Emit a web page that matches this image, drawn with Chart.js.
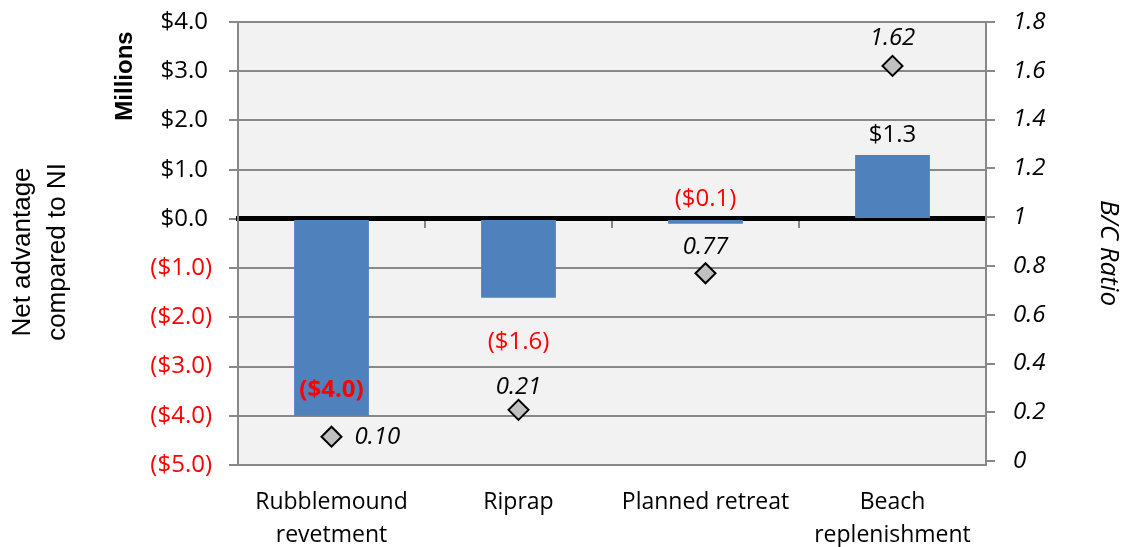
<!DOCTYPE html>
<html lang="en">
<head>
<meta charset="utf-8">
<title>Net advantage compared to NI</title>
<script src="https://cdn.jsdelivr.net/npm/chart.js@4.4.1/dist/chart.umd.min.js"></script>
<style>
  html, body { margin: 0; padding: 0; background: #fff; }
  #wrap { width: 1133px; height: 547px; position: relative; }
</style>
</head>
<body>
<div id="wrap"><canvas id="chart"></canvas></div>
<script>
// alternatives vs. NI (no intervention)
var categories = [['Rubblemound', 'revetment'], 'Riprap', 'Planned retreat', ['Beach', 'replenishment']];
var netAdvantage = [-4.0, -1.6, -0.1, 1.3];   // $ millions
var bcRatio = [0.10, 0.21, 0.77, 1.62];
var moneyTicks = [4, 3, 2, 1, 0, -1, -2, -3, -4, -5];
var ratioTicks = [0, 0.2, 0.4, 0.6, 0.8, 1, 1.2, 1.4, 1.6, 1.8];

// label placement next to each mark (pixels)
var barLabelDy = [-26, 45, -25, -20];
var ratioLabelDx = [23, 0, 0, 0];
var ratioLabelDy = [0, -23, -26, -28];

var GRID = '#888888';
var RED = '#ff0000';
var FONT = "'Open Sans', sans-serif";

function money(v) {
    var s = '$' + Math.abs(v).toFixed(1);
    return v < 0 ? '(' + s + ')' : s;
}

// keep the plot area where the layout padding puts it
function noLabelPadding(s) {
    s.paddingTop = 0;
    s.paddingBottom = 0;
}

var plotBg = {
    id: 'plotBg',
    beforeDraw: function(chart) {
        var a = chart.chartArea, ctx = chart.ctx;
        ctx.save();
        ctx.fillStyle = '#f2f2f2';
        ctx.fillRect(a.left, a.top, a.right - a.left, a.bottom - a.top);
        ctx.restore();
    }
};

var dataLabels = {
    id: 'dataLabels',
    afterDatasetsDraw: function(chart) {
        var ctx = chart.ctx;
        var bars = chart.getDatasetMeta(0).data;
        var pts = chart.getDatasetMeta(1).data;
        ctx.save();
        ctx.textBaseline = 'middle';
        bars.forEach(function(bar, i) {
            var v = netAdvantage[i];
            ctx.textAlign = 'center';
            ctx.fillStyle = v < 0 ? RED : '#000';
            ctx.font = (i === 0 ? 'bold ' : '') + '24px ' + FONT;
            ctx.fillText(money(v), bar.x, bar.y + barLabelDy[i]);
        });
        pts.forEach(function(p, i) {
            ctx.textAlign = ratioLabelDx[i] ? 'left' : 'center';
            ctx.fillStyle = '#000';
            ctx.font = 'italic 24px ' + FONT;
            ctx.fillText(bcRatio[i].toFixed(2), p.x + ratioLabelDx[i], p.y + ratioLabelDy[i]);
        });
        ctx.restore();
    }
};

var axisTitles = {
    id: 'axisTitles',
    afterDraw: function(chart) {
        var ctx = chart.ctx;
        ctx.save();
        ctx.fillStyle = '#000';
        ctx.textAlign = 'center';
        ctx.textBaseline = 'alphabetic';

        ctx.font = "26px 'Liberation Sans', Arial, sans-serif";
        [['Net advantage', 30], ['compared to NI', 65]].forEach(function(l) {
            ctx.save();
            ctx.translate(l[1], 252);
            ctx.rotate(-Math.PI / 2);
            ctx.fillText(l[0], 0, 0);
            ctx.restore();
        });

        ctx.font = "bold 24px 'Liberation Sans', Arial, sans-serif";
        ctx.save();
        ctx.translate(132, 76);
        ctx.rotate(-Math.PI / 2);
        ctx.fillText('Millions', 0, 0);
        ctx.restore();

        ctx.font = 'italic 26px ' + FONT;
        ctx.save();
        ctx.translate(1101, 253);
        ctx.rotate(Math.PI / 2);
        ctx.fillText('B/C Ratio', 0, 0);
        ctx.restore();
        ctx.restore();
    }
};

new Chart(document.getElementById('chart'), {
    data: {
        labels: categories,
        datasets: [{
            type: 'bar',
            label: 'Net advantage',
            data: netAdvantage,
            backgroundColor: '#4f81bd',
            barPercentage: 0.4,
            categoryPercentage: 1,
            xAxisID: 'x',
            yAxisID: 'y',
            order: 2
        }, {
            type: 'line',
            label: 'B/C Ratio',
            data: bcRatio,
            showLine: false,
            pointStyle: 'rectRot',
            pointRadius: 10,
            pointBackgroundColor: '#c0c0c0',
            pointBorderColor: '#000',
            pointBorderWidth: 2,
            xAxisID: 'x',
            yAxisID: 'y1',
            order: 1
        }]
    },
    options: {
        responsive: true,
        maintainAspectRatio: false,
        animation: false,
        layout: { padding: { top: 22, left: 0, right: 0, bottom: 0 } },
        plugins: {
            legend: { display: false },
            tooltip: { enabled: false }
        },
        scales: {
            x: {
                type: 'category',
                position: { y: 0 },
                z: 1,
                offset: true,
                grid: {
                    offset: true,
                    drawOnChartArea: false,
                    drawTicks: true,
                    tickLength: 7,
                    tickColor: GRID,
                    lineWidth: 2
                },
                border: { display: true, color: '#000', width: 5 },
                ticks: { display: false }
            },
            x2: {
                type: 'category',
                labels: categories,
                position: 'bottom',
                offset: true,
                grid: { display: false, drawTicks: false },
                border: { display: false },
                ticks: {
                    color: '#000',
                    padding: 21,
                    maxRotation: 0,
                    autoSkip: false,
                    font: { family: FONT, size: 23, lineHeight: 1.43 }
                },
                afterFit: function(s) { s.height = 82; }
            },
            y: {
                position: 'left',
                min: Math.min.apply(null, moneyTicks),
                max: Math.max.apply(null, moneyTicks),
                afterBuildTicks: function(s) {
                    s.ticks = moneyTicks.map(function(v) { return { value: v }; });
                },
                grid: {
                    color: function(c) { return c.tick && c.tick.value === 0 ? 'rgba(0,0,0,0)' : GRID; },
                    tickColor: GRID,
                    lineWidth: 2,
                    tickLength: 9
                },
                border: { color: GRID, width: 2 },
                ticks: {
                    padding: 17,
                    font: { family: FONT, size: 24 },
                    color: function(c) { return c.tick.value < 0 ? RED : '#000'; },
                    callback: function(v) { return v < 0 ? money(v) : money(v) + '\u2009'; }
                },
                afterFit: function(s) { s.width = 238; noLabelPadding(s); }
            },
            y1: {
                position: 'right',
                min: -0.016,
                max: Math.max.apply(null, ratioTicks),
                afterBuildTicks: function(s) {
                    s.ticks = ratioTicks.map(function(v) { return { value: v }; });
                },
                grid: {
                    drawOnChartArea: false,
                    tickColor: GRID,
                    lineWidth: 2,
                    tickLength: 9
                },
                border: { color: GRID, width: 2 },
                ticks: {
                    padding: 18,
                    color: '#000',
                    font: { family: FONT, size: 24, style: 'italic' },
                    callback: function(v) { return Number.isInteger(v) ? String(v) : v.toFixed(1); }
                },
                afterFit: function(s) { s.width = 147; noLabelPadding(s); }
            }
        }
    },
    plugins: [plotBg, dataLabels, axisTitles]
});
</script>
</body>
</html>
